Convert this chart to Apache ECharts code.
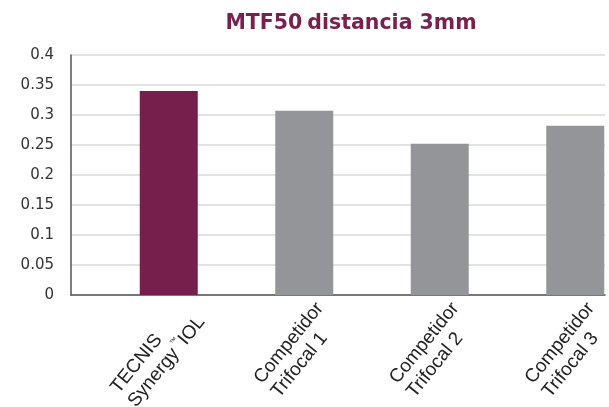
<!DOCTYPE html>
<html><head><meta charset="utf-8">
<script src="https://cdn.jsdelivr.net/npm/echarts@6/dist/echarts.min.js"></script>
<style>html,body{margin:0;padding:0;background:#fff}#c{width:609px;height:407px}</style>
</head><body><div id="c"></div>
<script>
const categories = ['TECNIS\nSynergy™IOL', 'Competidor\nTrifocal 1', 'Competidor\nTrifocal 2', 'Competidor\nTrifocal 3'];
const values = [0.34, 0.307, 0.252, 0.282];
const barColors = ['#761f4c', '#939598', '#939598', '#939598'];
const yTicks = [0, 0.05, 0.1, 0.15, 0.2, 0.25, 0.3, 0.35, 0.4];

function fmtCat(v) {
  return v.split('\n').map(line => '{l|' + line.replace('™', '}{tm| ™}{l|') + '}').join('\n');
}

const labelFont = 'Liberation Sans';
const chart = echarts.init(document.getElementById('c'), null, {renderer: 'canvas'});
chart.setOption({
  animation: false,
  title: {
    text: '{b|MTF50} {n|distancia 3mm}',
    left: 346, top: 8, textAlign: 'center',
    textStyle: {
      rich: {
        b: {fontFamily: 'DejaVu Sans', fontWeight: 'bold', fontSize: 20.5, color: '#7a1f4f'},
        n: {fontFamily: 'DejaVu Sans', fontWeight: 'bold', fontSize: 20.5, color: '#7a1f4f'}
      }
    }
  },
  grid: [
    {left: 71, right: 4, top: 55, bottom: 112, outerBoundsMode: 'none'},
    {left: 101, width: 542, top: 55, bottom: 112, outerBoundsMode: 'none'},
    {left: 108, width: 542, top: 55, bottom: 112, outerBoundsMode: 'none'}
  ],
  xAxis: [
    {gridIndex: 0, type: 'category', data: categories, axisLabel: {show: false}, axisTick: {show: false},
     axisLine: {show: true, lineStyle: {color: '#555', width: 1.5}}},
    {gridIndex: 1, type: 'category', data: categories, axisLabel: {show: false}, axisTick: {show: false}, axisLine: {show: false}},
    {gridIndex: 2, type: 'category', data: categories, axisTick: {show: false}, axisLine: {show: false},
     axisLabel: {rotate: 51, interval: 0, margin: 3, align: 'right', verticalAlign: 'top', hideOverlap: false,
       formatter: fmtCat,
       rich: {
         l: {fontFamily: labelFont, fontSize: 19, lineHeight: 22, color: '#222', align: 'left'},
         tm: {fontFamily: labelFont, fontSize: 8, lineHeight: 22, color: '#222', align: 'left', verticalAlign: 'top'}
       }}}
  ],
  yAxis: [
    {gridIndex: 0, type: 'value', min: 0, max: 0.4, interval: 0.05,
     axisLine: {show: true, lineStyle: {color: '#555', width: 1.5}}, axisTick: {show: false},
     splitLine: {show: true, lineStyle: {color: '#d9d9d9', width: 1.5}},
     axisLabel: {margin: 17, fontFamily: 'DejaVu Sans', fontSize: 15, color: '#333',
       formatter: v => { const s = String(parseFloat(v.toFixed(2))); return yTicks.some(t => Math.abs(t - v) < 1e-9) ? s : ''; }}},
    {gridIndex: 1, type: 'value', min: 0, max: 0.4, interval: 0.05, show: false},
    {gridIndex: 2, type: 'value', min: 0, max: 0.4, interval: 0.05, show: false}
  ],
  series: [{
    type: 'bar', xAxisIndex: 1, yAxisIndex: 1, barWidth: 58,
    data: values.map((v, i) => ({value: v, itemStyle: {color: barColors[i]}}))
  }]
});
</script></body></html>
